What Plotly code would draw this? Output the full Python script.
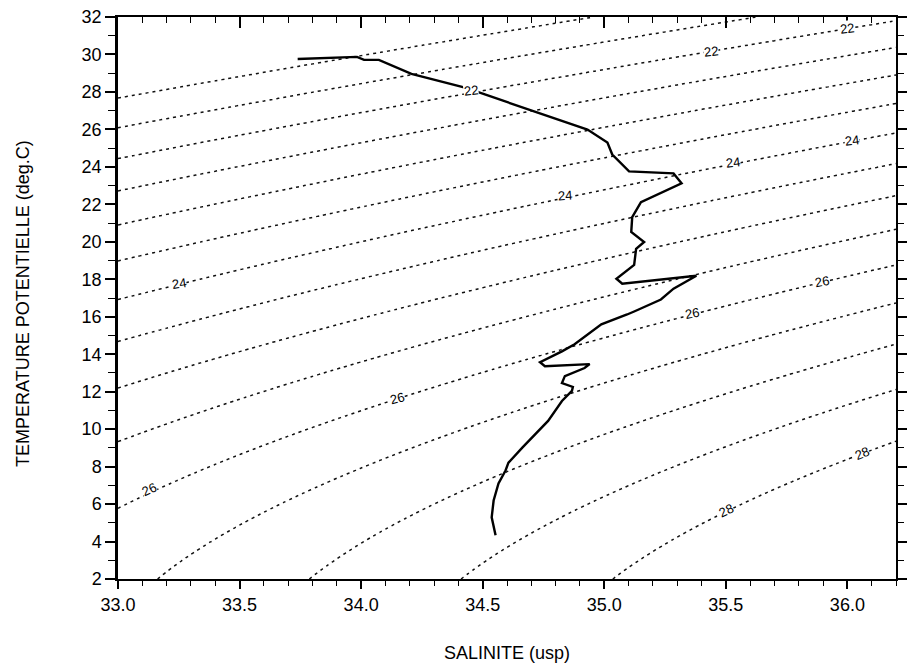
import numpy as np
import plotly.graph_objects as go

# T-S profile: salinity (psu) and potential temperature (deg C)
salinity = [33.739, 33.983, 34.012, 34.073, 34.207, 34.431, 34.512, 34.931, 35.013,
            35.033, 35.102, 35.285, 35.318, 35.151, 35.115, 35.111, 35.164, 35.131,
            35.123, 35.050, 35.074, 35.379, 35.285, 35.233, 35.123, 35.094, 34.988,
            34.878, 34.826, 34.736, 34.756, 34.940, 34.919, 34.838, 34.826, 34.871,
            34.867, 34.826, 34.769, 34.716, 34.663, 34.606, 34.594, 34.565, 34.545,
            34.537, 34.553]
temperature = [29.76, 29.87, 29.71, 29.71, 28.96, 28.22, 27.85, 25.99, 25.30,
               24.66, 23.76, 23.65, 23.12, 22.12, 21.32, 20.52, 19.99, 19.62,
               18.77, 18.03, 17.76, 18.19, 17.50, 16.92, 16.28, 16.12, 15.59,
               14.53, 14.15, 13.57, 13.36, 13.47, 13.26, 12.83, 12.46, 12.25,
               12.04, 11.50, 10.44, 9.75, 9.01, 8.21, 7.79, 7.10, 6.19,
               5.29, 4.34]

# isopycnal levels (sigma-theta, kg/m3)
sigma_start, sigma_end, sigma_step = 21.0, 28.0, 0.5

# contour labels: text, salinity, temperature, angle
label_text = ["22", "22", "22", "24", "24", "24", "24", "26", "26", "26", "26", "28", "28"]
label_s = [35.44, 36.00, 34.453, 35.53, 36.02, 34.839, 33.25, 34.146, 35.36, 35.896, 33.128, 36.06, 35.502]
label_t = [30.18, 31.40, 28.06, 24.24, 25.41, 22.49, 17.76, 11.66, 16.17, 17.87, 6.78, 8.69, 5.66]
label_angle = [-6, -7, -6, -7, -7, -4, -9, -15, -10, -10, -25, -22, -25]

x_ticks = [33.0, 33.5, 34.0, 34.5, 35.0, 35.5, 36.0]
y_ticks = list(range(2, 33, 2))


def sigma_theta(s, t):
    """Surface density anomaly from the UNESCO 1980 equation of state."""
    rho_w = (999.842594 + 6.793952e-2 * t - 9.095290e-3 * t**2 + 1.001685e-4 * t**3
             - 1.120083e-6 * t**4 + 6.536332e-9 * t**5)
    a = 8.24493e-1 - 4.0899e-3 * t + 7.6438e-5 * t**2 - 8.2467e-7 * t**3 + 5.3875e-9 * t**4
    b = -5.72466e-3 + 1.0227e-4 * t - 1.6546e-6 * t**2
    c = 4.8314e-4
    return rho_w + a * s + b * s**1.5 + c * s**2 - 1000.0


s_grid = np.linspace(33.0, 36.2, 161)
t_grid = np.linspace(2.0, 32.0, 301)
SS, TT = np.meshgrid(s_grid, t_grid)
sig = sigma_theta(SS, TT)

fig = go.Figure()

fig.add_trace(go.Contour(
    x=s_grid, y=t_grid, z=sig,
    contours=dict(start=sigma_start, end=sigma_end, size=sigma_step,
                  coloring="lines", showlabels=False),
    line=dict(width=1.5, dash="3px,4px"),
    colorscale=[[0, "#111111"], [1, "#111111"]],
    showscale=False, hoverinfo="skip",
))

fig.add_trace(go.Scatter(
    x=salinity, y=temperature, mode="lines",
    line=dict(color="black", width=2.4),
    showlegend=False,
))

# carrier for the mirrored top/right axes
fig.add_trace(go.Scatter(x=[None], y=[None], xaxis="x2", yaxis="y2",
                         showlegend=False, hoverinfo="skip"))

for txt, s, t, ang in zip(label_text, label_s, label_t, label_angle):
    fig.add_annotation(x=s, y=t, text=txt, showarrow=False, textangle=ang,
                       font=dict(family="Liberation Sans", size=13, color="black"),
                       bgcolor="white", borderpad=0)

font = dict(family="Liberation Sans", size=18, color="black")

fig.update_layout(
    width=912, height=667,
    margin=dict(l=118, r=7, t=14, b=88),
    plot_bgcolor="white", paper_bgcolor="white",
    showlegend=False,
    font=font,
    xaxis=dict(range=[33.0, 36.2], tickvals=x_ticks, ticktext=[f"{v:.1f}" for v in x_ticks],
               ticks="outside", ticklen=8, tickwidth=1.5, tickcolor="black",
               minor=dict(dtick=0.1, tick0=33.0, ticks="outside", ticklen=5, tickwidth=1.3, tickcolor="black"),
               showline=True, linewidth=2, linecolor="black",
               showgrid=False, zeroline=False, tickfont=font),
    xaxis2=dict(range=[33.0, 36.2], overlaying="x", side="top", anchor="y",
                tickvals=x_ticks, showticklabels=False,
                ticks="inside", ticklen=11, tickwidth=1.5, tickcolor="black",
                minor=dict(dtick=0.1, tick0=33.0, ticks="inside", ticklen=6, tickwidth=1.3, tickcolor="black"),
                showline=True, linewidth=2, linecolor="black",
                showgrid=False, zeroline=False),
    yaxis=dict(range=[2, 32], tickvals=y_ticks,
               ticks="outside", ticklen=10, tickwidth=1.5, tickcolor="black",
               minor=dict(dtick=1, tick0=2, ticks="outside", ticklen=7, tickwidth=1.3, tickcolor="black"),
               showline=True, linewidth=2.5, linecolor="black",
               showgrid=False, zeroline=False, tickfont=font),
    yaxis2=dict(range=[2, 32], overlaying="y", side="right", anchor="x",
                tickvals=y_ticks, showticklabels=False,
                ticks="outside", ticklen=9, tickwidth=1.5, tickcolor="black",
                minor=dict(dtick=1, tick0=2, ticks="outside", ticklen=6, tickwidth=1.3, tickcolor="black"),
                showline=True, linewidth=2, linecolor="black",
                showgrid=False, zeroline=False),
)

fig.add_annotation(text="SALINITE (usp)", xref="paper", yref="paper", x=0.5, y=-0.132,
                   yanchor="middle", showarrow=False, font=dict(family="Liberation Sans", size=18))
fig.add_annotation(text="TEMPERATURE POTENTIELLE (deg.C)", xref="paper", yref="paper",
                   x=-0.123, y=0.49, xanchor="center", yanchor="middle", textangle=-90,
                   showarrow=False, font=dict(family="Liberation Sans", size=18))

fig.write_html("out.html")
